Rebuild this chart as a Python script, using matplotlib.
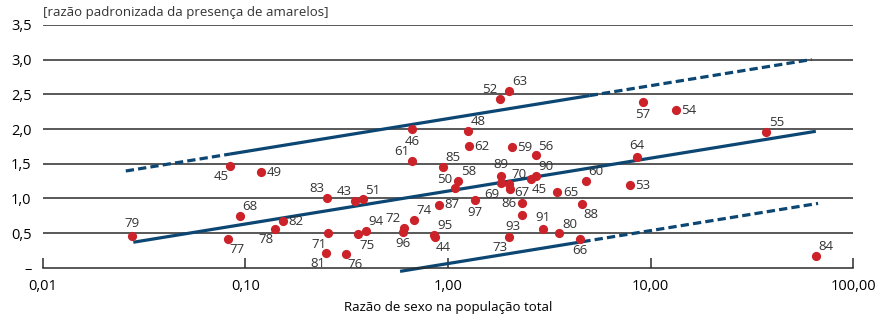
import numpy as np
import matplotlib.pyplot as plt

plt.rcParams['font.family'] = ['Open Sans', 'DejaVu Sans']
plt.rcParams['text.color'] = '#333333'

# razão de sexo (x) e razão padronizada da presença de amarelos (y)
ids = ['79', '45', '49', '68', '77', '78', '82', '83', '43', '51',
       '71', '81', '76', '75', '94', '72', '96', '74', '95', '44',
       '87', '61', '46', '85', '48', '62', '52', '63', '59', '56',
       '58', '50', '89', '70', '69', '67', '45', '90', '97', '86',
       '93', '73', '91', '80', '65', '60', '88', '66', '64', '53',
       '57', '54', '55', '84']
sex_ratio = [0.0277, 0.084, 0.119, 0.094, 0.0824, 0.140, 0.153, 0.253, 0.346, 0.379,
             0.256, 0.251, 0.313, 0.358, 0.392, 0.606, 0.600, 0.679, 0.855, 0.858,
             0.902, 0.665, 0.666, 0.944, 1.25, 1.27, 1.81, 2.00, 2.07, 2.71,
             1.12, 1.078, 1.83, 2.00, 1.83, 2.02, 2.56, 2.71, 1.36, 2.315,
             2.315, 2.00, 2.93, 3.54, 3.46, 4.79, 4.56, 4.48, 8.55, 7.89,
             9.18, 13.3, 37.2, 65.3]
std_ratio = [0.46, 1.47, 1.375, 0.745, 0.41, 0.56, 0.67, 1.01, 0.96, 0.985,
             0.495, 0.215, 0.195, 0.48, 0.535, 0.57, 0.52, 0.685, 0.475, 0.44,
             0.905, 1.535, 2.00, 1.455, 1.97, 1.75, 2.43, 2.55, 1.735, 1.62,
             1.255, 1.145, 1.32, 1.205, 1.215, 1.13, 1.28, 1.32, 0.97, 0.93,
             0.755, 0.44, 0.555, 0.495, 1.09, 1.25, 0.92, 0.415, 1.595, 1.19,
             2.39, 2.27, 1.96, 0.175]

# posição de cada rótulo em relação ao ponto
label_pos = ['a', 'll', 'r', 'ur', 'lr', 'll', 'r', 'ul', 'ul', 'ur',
             'll', 'll', 'lr', 'lr', 'ur', 'ul', 'b', 'ur', 'ur', 'lr',
             'r', 'ul', 'b', 'ur', 'ur', 'r', 'ul', 'ur', 'r', 'ur',
             'ur', 'ul', 'a', 'ur', 'll', 'rd', 'lr', 'ur', 'b', 'l',
             'll', 'll', 'a', 'ur', 'r', 'ur', 'lr', 'b', 'a', 'r',
             'b', 'r', 'ur', 'ur']
pos_style = {
    'a': ((0, 4), 'center', 'bottom'),
    'b': ((0, -4), 'center', 'top'),
    'r': ((4, 0), 'left', 'center'),
    'rd': ((3, -2), 'left', 'center'),
    'l': ((-4, 0), 'right', 'center'),
    'ur': ((2, 2), 'left', 'bottom'),
    'ul': ((-2, 2), 'right', 'bottom'),
    'lr': ((1, -3), 'left', 'top'),
    'll': ((-1, -3), 'right', 'top'),
}

# retas: y = a + b*log10(x)
slope = 0.475
intercepts = [2.15, 1.105, 0.06]
upper_dash1 = (0.0257, 0.084)
upper_solid = (0.084, 5.0)
upper_dash2 = (5.0, 62.3)
mid_solid = (0.028, 65.3)
lower_solid = (0.58, 4.6)
lower_dash = (4.6, 67.0)

yticks = [0, 0.5, 1.0, 1.5, 2.0, 2.5, 3.0, 3.5]
ytick_labels = ['–', '0,5', '1,0', '1,5', '2,0', '2,5', '3,0', '3,5']
xticks = [0.01, 0.1, 1, 10, 100]
xtick_labels = ['0,01', '0,10', '1,00', '10,00', '100,00']

line_color = '#0c4672'
dot_color = '#cc2229'

fig = plt.figure(figsize=(8.77, 3.20), dpi=100)
ax = fig.add_axes([0.0487, 0.1634, 0.9243, 0.7585])

# linhas horizontais
for yv in yticks[1:]:
    ax.plot([0.01, 100], [yv, yv], color='#2b2b2b', lw=1.1, zorder=1)


def seg(rng, intercept, dashed):
    xs = np.logspace(np.log10(rng[0]), np.log10(rng[1]), 50)
    ys = intercept + slope * np.log10(xs)
    ls = (0, (2.6, 1.3)) if dashed else '-'
    ax.plot(xs, ys, color=line_color, lw=2.3, ls=ls, zorder=2,
            solid_capstyle='butt', dash_capstyle='butt', clip_on=False)


seg(upper_dash1, intercepts[0], True)
seg(upper_solid, intercepts[0], False)
seg(upper_dash2, intercepts[0], True)
seg(mid_solid, intercepts[1], False)
seg(lower_solid, intercepts[2], False)
seg(lower_dash, intercepts[2], True)

ax.scatter(sex_ratio, std_ratio, s=44, color=dot_color, zorder=3, linewidths=0)

for name, xv, yv, p in zip(ids, sex_ratio, std_ratio, label_pos):
    off, ha, va = pos_style[p]
    ax.annotate(name, (xv, yv), xytext=off, textcoords='offset points',
                ha=ha, va=va, fontsize=9.5, color='#333333', zorder=4)

ax.set_xscale('log')
ax.set_xlim(0.01, 100)
ax.set_ylim(0, 3.5)
ax.set_xticks(xticks)
ax.set_xticklabels(xtick_labels, fontsize=10.5)
ax.minorticks_off()
ax.set_yticks(yticks)
ax.set_yticklabels(ytick_labels, fontsize=10.5)
ax.tick_params(axis='y', length=0, pad=8)
ax.tick_params(axis='x', direction='in', length=7, width=1.1, color='#2b2b2b', pad=8)

for s in ['top', 'right', 'left']:
    ax.spines[s].set_visible(False)
ax.spines['bottom'].set_color('#2b2b2b')
ax.spines['bottom'].set_linewidth(1.1)
ax.spines['bottom'].set_zorder(3)

ax.set_xlabel('Razão de sexo na população total', fontsize=9.5, labelpad=5)
ax.text(0.0, 1.025, '[razão padronizada da presença de amarelos]',
        transform=ax.transAxes, ha='left', va='bottom', fontsize=9.5)

fig.savefig('out.png', dpi=100)
